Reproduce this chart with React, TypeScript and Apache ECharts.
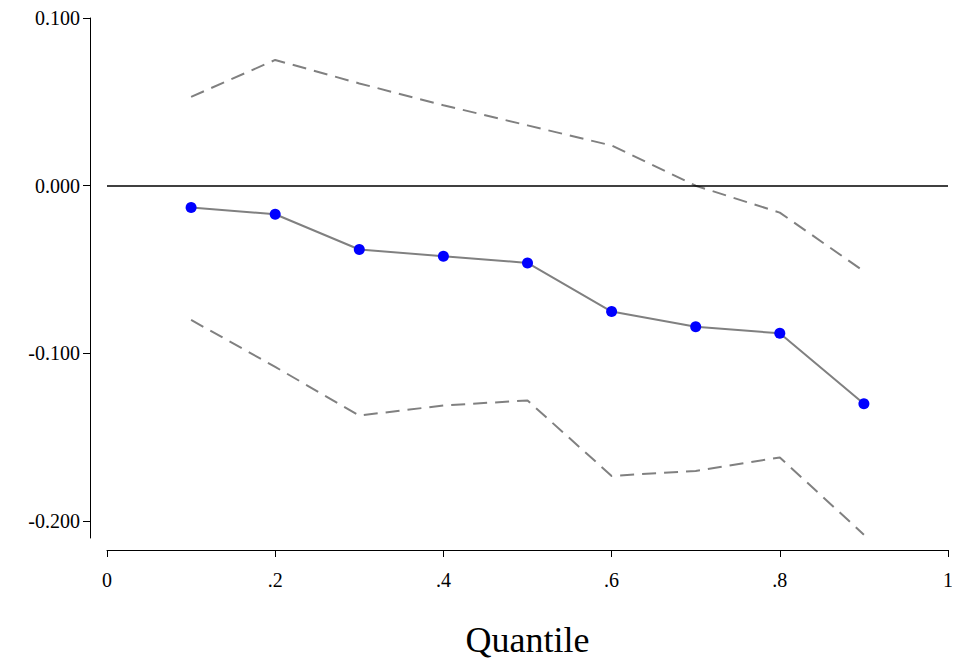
import { useEffect, useRef } from 'react'
import * as echarts from 'echarts'

const quantiles = [0.1, 0.2, 0.3, 0.4, 0.5, 0.6, 0.7, 0.8, 0.9]
const estimate = [-0.013, -0.017, -0.038, -0.042, -0.046, -0.075, -0.084, -0.088, -0.13]
const upper = [0.053, 0.075, 0.061, 0.048, 0.036, 0.024, 0.0, -0.016, -0.051]
const lower = [-0.08, -0.108, -0.137, -0.131, -0.128, -0.173, -0.17, -0.162, -0.208]
const yTicks = [-0.2, -0.1, 0, 0.1]
const xLabels: Record<string, string> = { '0': '0', '0.2': '.2', '0.4': '.4', '0.6': '.6', '0.8': '.8', '1': '1' }

const font = 'Liberation Serif'
const pairs = (ys: number[]) => quantiles.map((q, i) => [q, ys[i]])

export default function App() {
  const ref = useRef<HTMLDivElement>(null)

  useEffect(() => {
    if (!ref.current) return
    const chart = echarts.init(ref.current, null, { renderer: 'svg' })
    chart.setOption({
      animation: false,
      backgroundColor: '#fff',
      // body has an 8px margin, so grid offsets are page coords minus 8
      grid: { left: 99, right: 12, top: 6, bottom: 130 },
      xAxis: {
        type: 'value',
        min: 0,
        max: 1,
        interval: 0.2,
        offset: 12,
        name: 'Quantile',
        nameLocation: 'middle',
        nameGap: 72,
        nameTextStyle: { fontFamily: font, fontSize: 36, color: '#000' },
        axisLine: { show: true, onZero: false, lineStyle: { color: '#000', width: 1 } },
        axisTick: { show: true, length: 7, lineStyle: { color: '#000' } },
        axisLabel: {
          fontFamily: font, fontSize: 20, color: '#000', margin: 20,
          formatter: (v: number) => xLabels[String(Math.round(v * 10) / 10)] ?? '',
        },
        splitLine: { show: false },
      },
      yAxis: {
        type: 'value',
        min: -0.21,
        max: 0.1,
        offset: 17,
        axisLine: { show: true, onZero: false, lineStyle: { color: '#000', width: 1 } },
        axisTick: { show: true, length: 7, customValues: yTicks, lineStyle: { color: '#000' } },
        axisLabel: {
          fontFamily: font, fontSize: 20, color: '#000', margin: 10,
          customValues: yTicks,
          formatter: (v: number) => v.toFixed(3),
        },
        splitLine: { show: false },
      },
      series: [
        {
          type: 'line',
          data: pairs(upper),
          symbol: 'none',
          lineStyle: { color: '#808080', width: 2, type: [14, 8] },
        },
        {
          type: 'line',
          data: pairs(lower),
          symbol: 'none',
          lineStyle: { color: '#808080', width: 2, type: [14, 8] },
        },
        {
          type: 'line',
          data: pairs(estimate),
          symbol: 'circle',
          symbolSize: 11,
          itemStyle: { color: '#0000ff' },
          lineStyle: { color: '#808080', width: 2 },
          markLine: {
            silent: true,
            symbol: 'none',
            label: { show: false },
            lineStyle: { color: '#000', width: 1.5, type: 'solid' },
            data: [{ yAxis: 0 }],
          },
          z: 3,
        },
      ],
    })
    return () => chart.dispose()
  }, [])

  return <div ref={ref} style={{ width: 952, height: 660 }} />
}
